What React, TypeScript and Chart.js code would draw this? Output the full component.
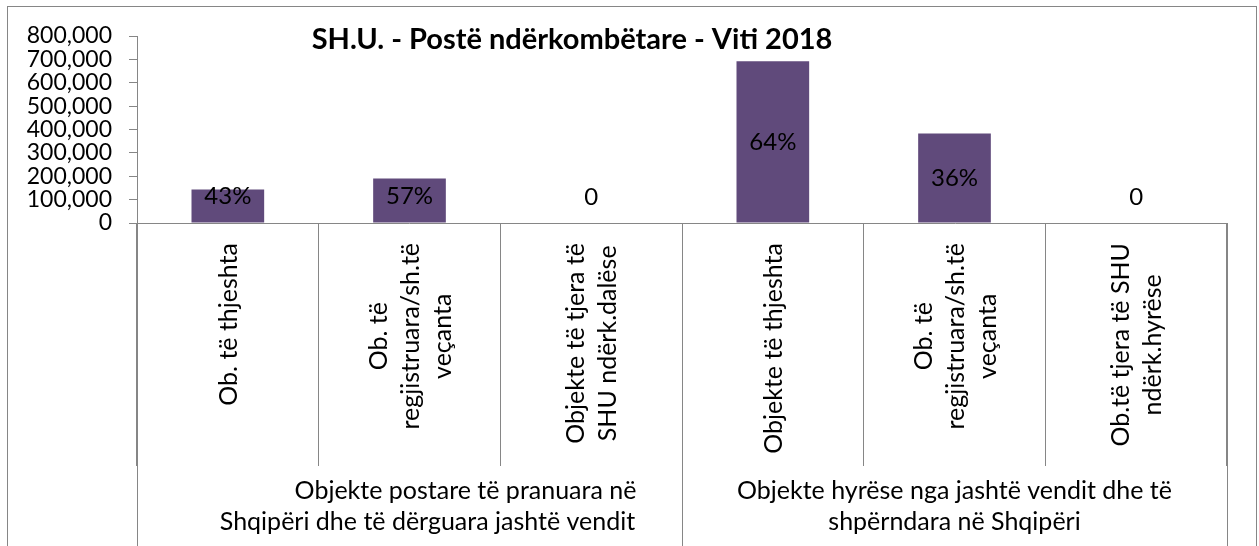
import React, { useEffect, useRef } from "react";
import { Chart, registerables } from "chart.js";

Chart.register(...registerables);

// ---- data ----
const categories: string[][] = [
  ["Ob. të thjeshta"],
  ["Ob. të", "regjistruara/sh.të", "veçanta"],
  ["Objekte të tjera të", "SHU ndërk.dalëse"],
  ["Objekte të thjeshta"],
  ["Ob. të", "regjistruara/sh.të", "veçanta"],
  ["Ob.të tjera të SHU", "ndërk.hyrëse"],
];
const values: number[] = [143000, 190000, 0, 692000, 383000, 0];
const dataLabels: string[] = ["43%", "57%", "0", "64%", "36%", "0"];
const groupLabels: string[][] = [
  ["Objekte postare të pranuara në", "Shqipëri dhe të dërguara jashtë vendit"],
  ["Objekte hyrëse nga jashtë vendit dhe të", "shpërndara në Shqipëri"],
];
const groupSizes: number[] = [3, 3];
const yTicks: number[] = [0, 100000, 200000, 300000, 400000, 500000, 600000, 700000, 800000];
const titleText = "SH.U. - Postë ndërkombëtare - Viti 2018";

// ---- styles ----
const FONT = "Lato, 'Open Sans', sans-serif";
const AXIS_COLOR = "#868686";
const BAR_COLOR = "#604a7b";
const W = 1259;
const H = 546;
const LABEL_SIZE = 25;
const groupLineOffsets: number[][] = [
  [56, 18],
  [0, 0],
];

const overlayPlugin = {
  id: "overlay",
  afterDraw(chart: any) {
    const ctx = chart.ctx as CanvasRenderingContext2D;
    const xs = chart.scales.x;
    const area = chart.chartArea;
    const n = categories.length;
    const catW = xs.getPixelForValue(1) - xs.getPixelForValue(0);
    ctx.save();
    // outer border
    ctx.strokeStyle = AXIS_COLOR;
    ctx.lineWidth = 1;
    ctx.strokeRect(7.5, 6.5, 1249, 700);

    // title
    ctx.fillStyle = "#000";
    ctx.font = `bold 29px ${FONT}`;
    ctx.textAlign = "center";
    ctx.textBaseline = "middle";
    ctx.fillText(titleText, 572, 40);

    // rotated category labels
    ctx.font = `${LABEL_SIZE}px ${FONT}`;
    const lh = 32;
    for (let i = 0; i < n; i++) {
      const lines = categories[i];
      const x = xs.getPixelForValue(i);
      const maxW = Math.max(...lines.map((l) => ctx.measureText(l).width));
      ctx.save();
      ctx.translate(x, area.bottom + 20);
      ctx.rotate(-Math.PI / 2);
      ctx.textAlign = "center";
      ctx.textBaseline = "middle";
      lines.forEach((l, k) => {
        const v = (k - (lines.length - 1) / 2) * lh;
        ctx.fillText(l, -maxW / 2, v + 1);
      });
      ctx.restore();
    }

    // group boundaries + labels
    let start = 0;
    ctx.strokeStyle = AXIS_COLOR;
    ctx.beginPath();
    const left0 = Math.round(xs.getPixelForValue(0) - catW / 2) + 0.5;
    ctx.moveTo(left0, area.bottom);
    ctx.lineTo(left0, H + 10);
    groupSizes.forEach((size, g) => {
      const lx = xs.getPixelForValue(start) - catW / 2;
      const rx = xs.getPixelForValue(start + size - 1) + catW / 2;
      const rxs = Math.round(rx) + 0.5;
      ctx.moveTo(rxs, area.bottom);
      ctx.lineTo(rxs, H + 10);
      const cx = (lx + rx) / 2;
      ctx.fillStyle = "#000";
      ctx.textAlign = "center";
      ctx.textBaseline = "middle";
      groupLabels[g].forEach((l, k) => {
        ctx.fillText(l, cx + groupLineOffsets[g][k], 491 + k * 31);
      });
      start += size;
    });
    ctx.stroke();

    // data labels
    const meta = chart.getDatasetMeta(0);
    ctx.font = `24px ${FONT}`;
    ctx.fillStyle = "#000";
    meta.data.forEach((bar: any, i: number) => {
      const mid = (bar.y + bar.base) / 2;
      const y = Math.min(mid, bar.base - 26);
      ctx.fillText(dataLabels[i], bar.x, y);
    });
    ctx.restore();
  },
};

export default function App() {
  const ref = useRef<HTMLCanvasElement | null>(null);
  useEffect(() => {
    if (!ref.current) return;
    const chart = new Chart(ref.current, {
      type: "bar",
      data: {
        labels: categories.map((c) => c.join(" ")),
        datasets: [
          {
            data: values,
            backgroundColor: BAR_COLOR,
            borderWidth: 0,
            barPercentage: 0.8,
            categoryPercentage: 0.5,
          },
        ],
      },
      options: {
        responsive: false,
        animation: false,
        devicePixelRatio: 1,
        layout: { padding: { left: 0, right: 32, top: 36, bottom: 0 } },
        plugins: {
          legend: { display: false },
          title: { display: false },
          tooltip: { enabled: false },
        },
        scales: {
          x: {
            ticks: { display: false },
            grid: {
              offset: true,
              drawOnChartArea: false,
              drawTicks: true,
              tickLength: 243,
              color: AXIS_COLOR,
              lineWidth: 1,
            },
            border: { display: true, color: AXIS_COLOR, width: 1 },
            afterFit: (s: any) => {
              s.height = 323;
            },
          },
          y: {
            min: 0,
            max: 800000,
            afterBuildTicks: (s: any) => {
              s.ticks = yTicks.map((v) => ({ value: v }));
            },
            ticks: {
              autoSkip: false,
              color: "#000",
              font: { family: FONT, size: 23 },
              padding: 17,
              callback: (v: any) => Number(v).toLocaleString("en-US"),
            },
            grid: {
              drawOnChartArea: false,
              drawTicks: true,
              tickLength: 8,
              color: AXIS_COLOR,
            },
            border: { display: true, color: AXIS_COLOR, width: 1 },
            afterFit: (s: any) => {
              s.width = 137;
            },
          },
        },
      },
      plugins: [overlayPlugin],
    });
    return () => chart.destroy();
  }, []);
  return (
    <div style={{ position: "absolute", left: 0, top: 0, width: W, height: H, background: "#fff" }}>
      <canvas ref={ref} width={W} height={H} style={{ display: "block" }} />
    </div>
  );
}
